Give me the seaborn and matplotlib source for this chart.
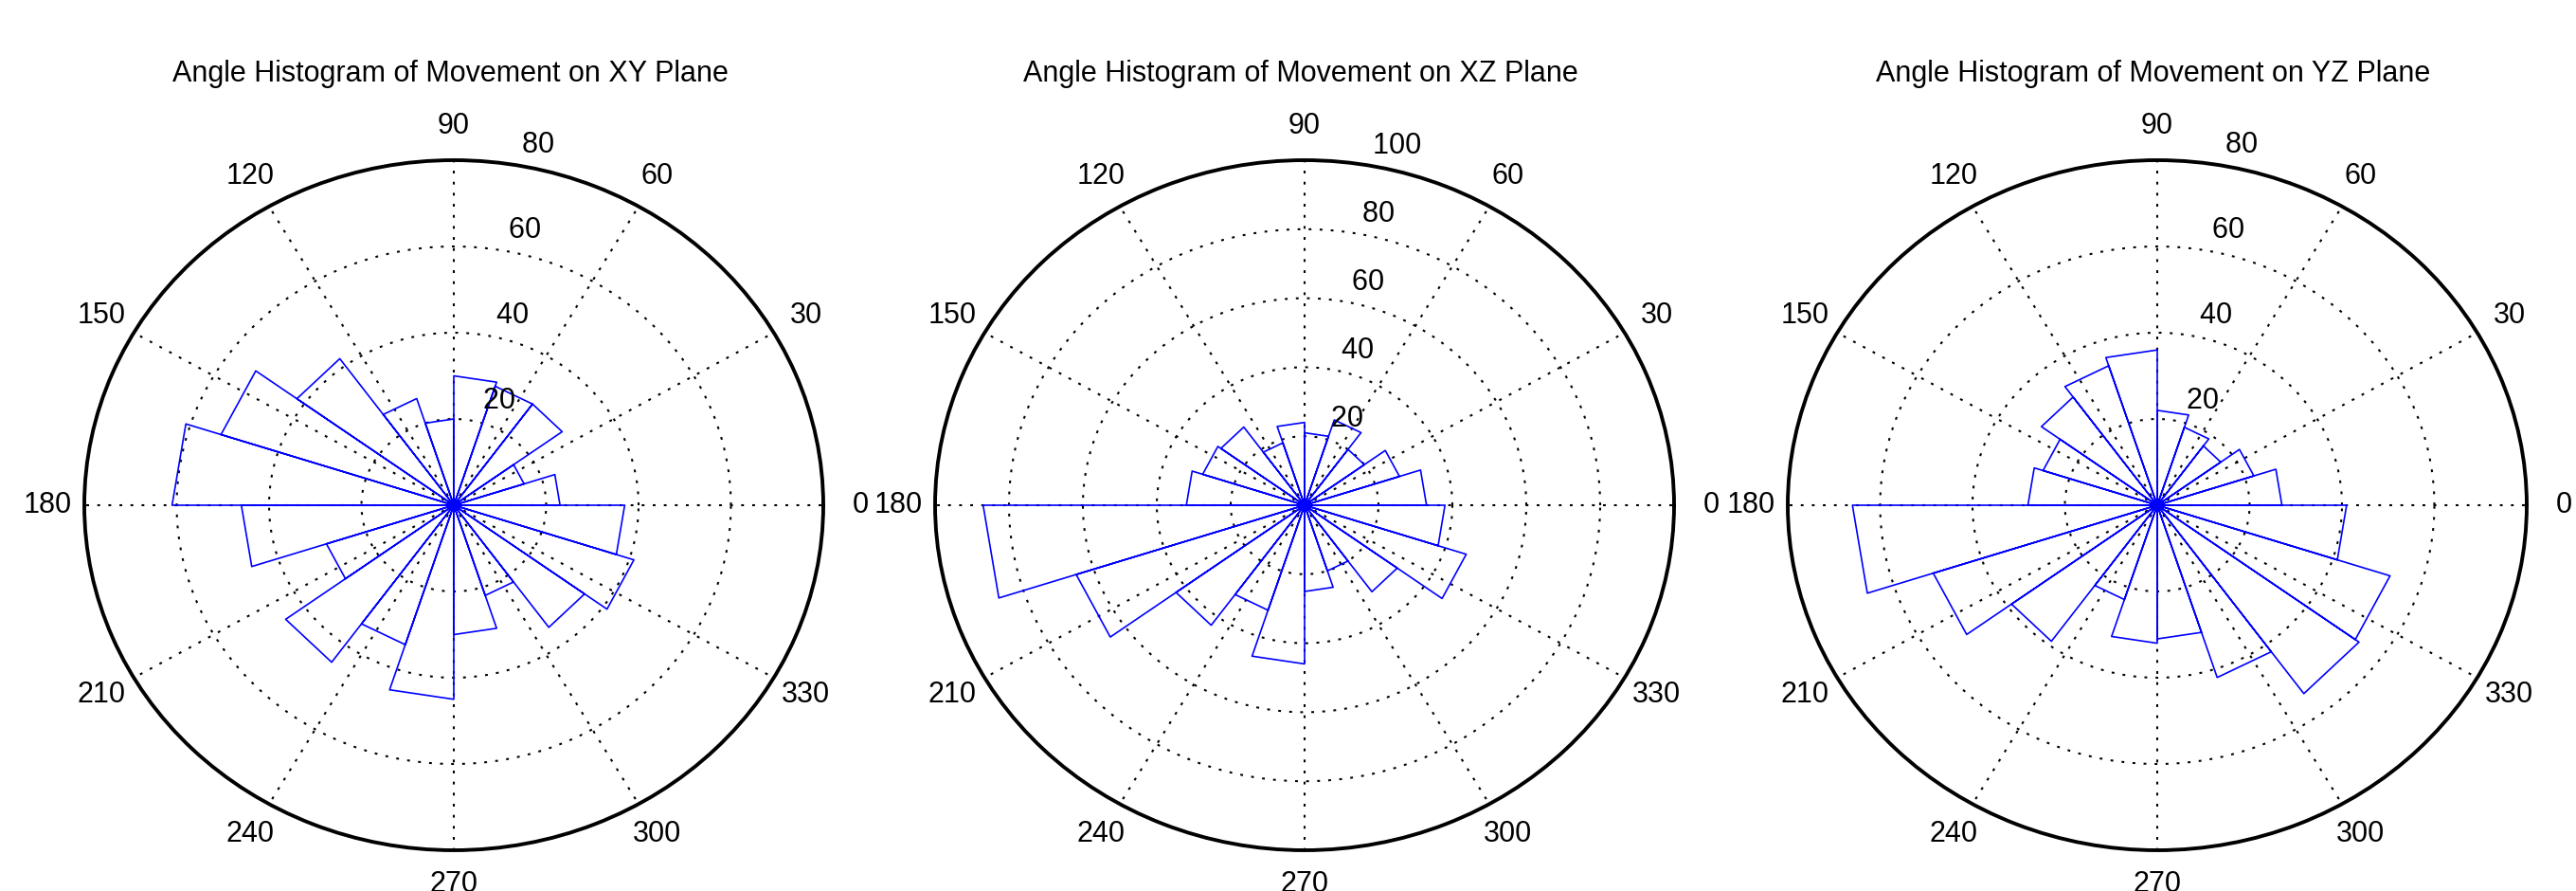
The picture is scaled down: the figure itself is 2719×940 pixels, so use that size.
import numpy as np
import pandas as pd
import matplotlib
matplotlib.use('Agg')
import matplotlib.pyplot as plt
import seaborn as sns

# rose histogram counts, 20 bins of 18 degrees starting at 0
titles = ['Angle Histogram of Movement on XY Plane',
          'Angle Histogram of Movement on XZ Plane',
          'Angle Histogram of Movement on YZ Plane']
xy_counts = [23, 16, 29, 29, 30, 20, 26, 42, 53, 61, 46, 29, 45, 34, 45, 30, 22, 35, 41, 37]
xz_counts = [33, 27, 20, 26, 21, 24, 19, 28, 29, 32, 87, 65, 43, 32, 46, 25, 20, 31, 46, 38]
yz_counts = [27, 22, 17, 19, 22, 36, 34, 31, 26, 28, 66, 51, 39, 23, 32, 31, 42, 54, 53, 41]
r_max = [80, 100, 80]
r_step = 20
spoke_angles = list(range(0, 360, 30))

W, H = 2719, 940
centers_x = [479, 1377, 2277]
center_y = 533
rx, ry = 390, 364
font_size = 22
dotted = (0, (1.4, 4.2))


def rosePath(counts):
    # same path as matlab rose: origin -> corner -> corner -> origin for each bin
    edges = np.deg2rad(np.arange(len(counts) + 1) * 360.0 / len(counts))
    theta = []
    radius = []
    for i, c in enumerate(counts):
        theta += [edges[i], edges[i], edges[i + 1], edges[i + 1]]
        radius += [0, c, c, 0]
    return pd.DataFrame({'theta': theta, 'r': radius})


sns.set_theme(style='white')
plt.rcParams['font.family'] = ['Liberation Sans', 'DejaVu Sans']

fig = plt.figure(figsize=(W / 100, H / 100), dpi=100)
fig.patch.set_facecolor('white')

all_counts = [xy_counts, xz_counts, yz_counts]
for k in range(3):
    cx = centers_x[k]
    rm = r_max[k]
    ax = fig.add_axes([(cx - rx) / W, (H - center_y - ry) / H, 2 * rx / W, 2 * ry / H],
                      projection='polar')
    ax.set_aspect('auto')
    ax.set_facecolor('white')
    ax.grid(False)

    # rings and spokes
    tc = np.linspace(0, 2 * np.pi, 721)
    for r in range(r_step, rm, r_step):
        ax.plot(tc, np.full_like(tc, r), color='black', lw=1.5, ls=dotted)
    for a in spoke_angles:
        ax.plot([np.deg2rad(a)] * 2, [0, rm], color='black', lw=1.5, ls=dotted)

    df = rosePath(all_counts[k])
    sns.lineplot(data=df, x='theta', y='r', sort=False, estimator=None,
                 color='#0000ff', lw=1.2, ax=ax)

    ax.set_ylim(0, rm)
    ax.set_xticks([])
    ax.set_yticks([])
    ax.set_xlabel('')
    ax.set_ylabel('')
    ax.spines['polar'].set_linewidth(2.8)
    ax.spines['polar'].set_color('black')

    for a in spoke_angles:
        ax.text(np.deg2rad(a), 1.1 * rm, str(a), ha='center', va='center',
                fontsize=font_size, color='black')
    for r in range(r_step, rm + 1, r_step):
        ax.text(np.deg2rad(82), r + r_step / 20, '  ' + str(r), ha='left', va='bottom',
                fontsize=font_size, color='black')

    fig.text((cx - 4) / W, 1 - 78 / H, titles[k], ha='center', va='center',
             fontsize=font_size, color='black')

fig.savefig('out.png', dpi=100, facecolor='white')
